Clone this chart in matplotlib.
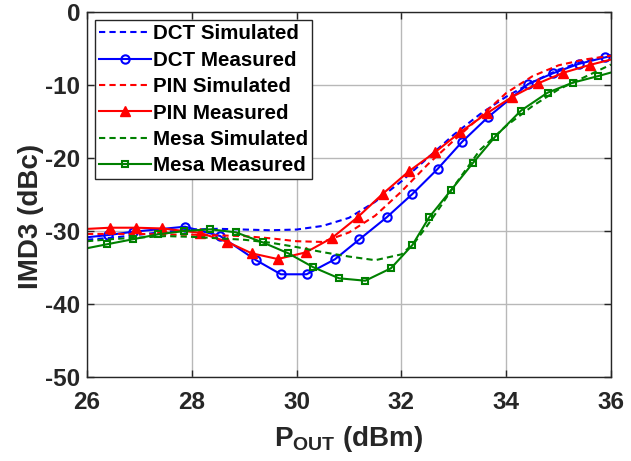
import matplotlib
matplotlib.use("Agg")
import matplotlib.pyplot as plt

plt.rcParams["font.family"] = ["Liberation Sans", "DejaVu Sans"]
plt.rcParams["font.weight"] = "bold"
plt.rcParams["mathtext.fontset"] = "custom"
plt.rcParams["mathtext.rm"] = "Liberation Sans:bold"
plt.rcParams["mathtext.bf"] = "Liberation Sans:bold"
plt.rcParams["mathtext.it"] = "Liberation Sans:bold"

# ---- data: IMD3 (dBc) versus output power (dBm) ----
sim_x = [26.0, 26.5, 27.0, 27.5, 28.0, 28.5, 29.0, 29.5, 30.0, 30.5, 31.0,
         31.5, 32.0, 32.5, 33.0, 33.5, 34.0, 34.5, 35.0, 35.5, 36.0]
dct_sim = [-31.2, -30.9, -30.5, -30.1, -29.8, -29.7, -29.8, -29.9, -29.8, -29.3, -28.2,
           -26.0, -23.2, -20.0, -16.8, -14.0, -11.6, -9.6, -7.9, -6.7, -5.9]
pin_sim = [-30.4, -30.4, -30.4, -30.5, -30.5, -30.6, -30.7, -31.0, -31.4, -31.5, -30.2,
           -27.9, -24.6, -20.9, -17.6, -14.4, -11.1, -8.8, -7.3, -6.5, -6.0]

mesa_sim_x = [26.0, 26.5, 27.0, 27.5, 28.0, 28.5, 29.0, 29.5, 30.0, 30.5, 31.0, 31.5,
              32.0, 32.25, 32.5, 32.75, 33.0, 33.5, 34.0, 34.5, 35.0, 35.5, 36.0]
mesa_sim = [-31.4, -31.1, -30.9, -30.7, -30.8, -31.0, -31.2, -31.6, -32.2, -32.9, -33.5, -34.0,
            -33.2, -31.6, -29.2, -26.6, -23.9, -18.9, -15.6, -12.9, -10.6, -8.9, -7.2]

# measured sweeps (first and last samples lie just outside the plotted range)
dct_meas_x = [25.88, 26.41, 26.88, 27.87, 28.54, 29.22, 29.70, 30.19, 30.73, 31.20, 31.72,
              32.21, 32.69, 33.16, 33.65, 34.42, 34.89, 35.38, 35.89, 36.12]
dct_meas = [-30.95, -30.55, -30.10, -29.41, -30.68, -33.97, -35.93, -35.93, -33.88, -31.14, -28.12,
            -24.93, -21.51, -17.77, -14.42, -9.86, -8.40, -7.12, -6.21, -5.85]

pin_meas_x = [25.9, 26.44, 26.93, 27.43, 28.16, 28.67, 29.14, 29.64, 30.18, 30.68, 31.17,
              31.64, 32.15, 32.64, 33.12, 33.63, 34.12, 34.61, 35.09, 35.59, 36.12]
pin_meas = [-29.75, -29.55, -29.55, -29.65, -30.25, -31.47, -33.05, -33.84, -32.92, -30.92, -28.08,
            -24.93, -21.78, -19.22, -16.48, -13.88, -11.60, -9.77, -8.32, -7.26, -6.30]

mesa_meas_x = [25.9, 26.38, 26.87, 27.36, 27.86, 28.35, 28.84, 29.35, 29.84, 30.32, 30.81,
               31.31, 31.80, 32.21, 32.53, 32.95, 33.37, 33.79, 34.28, 34.79, 35.27, 35.76, 36.12]
mesa_meas = [-32.5, -31.82, -31.14, -30.45, -30.00, -29.77, -30.18, -31.55, -33.05, -34.97, -36.48,
             -36.81, -35.11, -31.92, -28.12, -24.38, -20.64, -17.08, -13.52, -11.05, -9.68, -8.77, -8.05]

x_ticks = [26, 28, 30, 32, 34, 36]
y_ticks = [0, -10, -20, -30, -40, -50]

BLUE, RED, GREEN = "#0000ff", "#ff0000", "#008000"
LW = 1.5
DASH = (3.0, 2.0)
INK = "#262626"

fig = plt.figure(figsize=(6.31, 4.61), dpi=100)
ax = fig.add_axes([87 / 631, 1 - 377 / 461, (611 - 87) / 631, (377 - 12) / 461])

inner = slice(1, -1)
ax.plot(sim_x, dct_sim, color=BLUE, lw=LW, linestyle="--", dashes=DASH, label="DCT Simulated")
ax.plot(dct_meas_x, dct_meas, color=BLUE, lw=LW, marker="o", ms=6, mfc="none", mew=1.5,
        markevery=inner, label="DCT Measured")
ax.plot(sim_x, pin_sim, color=RED, lw=LW, linestyle="--", dashes=DASH, label="PIN Simulated")
ax.plot(pin_meas_x, pin_meas, color=RED, lw=LW, marker="^", ms=7.5, mfc=RED, mew=1.0,
        markevery=inner, label="PIN Measured")
ax.plot(mesa_sim_x, mesa_sim, color=GREEN, lw=LW, linestyle="--", dashes=DASH, label="Mesa Simulated")
ax.plot(mesa_meas_x, mesa_meas, color=GREEN, lw=LW, marker="s", ms=5, mfc="none", mew=1.5,
        markevery=inner, label="Mesa Measured")

ax.set_xlim(26, 36)
ax.set_ylim(-50, 0)
ax.set_xticks(x_ticks)
ax.set_yticks(y_ticks)
ax.set_xticklabels([str(t) for t in x_ticks])
ax.set_yticklabels([str(t) for t in y_ticks])

ax.grid(True, color="#b8b8b8", linewidth=1.0)
ax.set_axisbelow(True)
for s in ax.spines.values():
    s.set_color(INK)
    s.set_linewidth(1.0)
ax.tick_params(direction="in", top=True, right=True, length=5, width=1.0,
               colors=INK, labelsize=17.5)
ax.tick_params(axis="x", pad=10)
ax.tick_params(axis="y", pad=5)
for lab in ax.get_xticklabels() + ax.get_yticklabels():
    lab.set_fontweight("bold")
    lab.set_color(INK)

ax.set_xlabel(r"$\mathbf{P}_{\mathbf{OUT}}$ (dBm)", fontsize=20, fontweight="bold", color=INK)
ax.set_ylabel("IMD3 (dBc)", fontsize=20, fontweight="bold", color=INK)
ax.xaxis.set_label_coords(0.5, -0.128)
ax.yaxis.set_label_coords(-0.082, 0.44)

leg = ax.legend(loc="upper left", bbox_to_anchor=(0.0, 1.0),
                prop={"weight": "bold", "size": 14.8}, handlelength=2.5, handletextpad=0.1,
                labelspacing=0.36, borderpad=0.2, borderaxespad=0.4, fancybox=False,
                framealpha=1.0, edgecolor=INK)
leg.get_frame().set_linewidth(1.0)

fig.savefig("out.png", dpi=100)
